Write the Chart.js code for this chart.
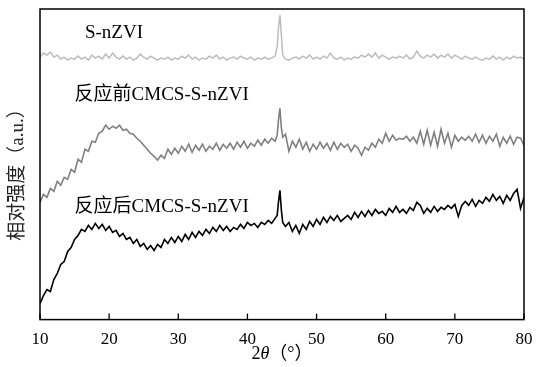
<!DOCTYPE html>
<html>
<head>
<meta charset="utf-8">
<script src="https://cdn.jsdelivr.net/npm/chart.js@4.4.1/dist/chart.umd.min.js"></script>
<style>
  html, body { margin: 0; padding: 0; background: #fff; }
  #wrap { width: 539px; height: 367px; }
</style>
</head>
<body>
<div id="wrap"><canvas id="xrd"></canvas></div>
<script>
// 2θ (°) — общая ось для трёх кривых
const twoTheta = [
  10, 10.5, 11, 11.5, 12, 12.5, 13, 13.5, 14, 14.5, 15, 15.5, 16, 16.5, 17, 17.5, 18, 18.5, 19, 19.5,
  20, 20.5, 21, 21.5, 22, 22.5, 23, 23.5, 24, 24.5, 25, 25.5, 26, 26.5, 27, 27.5, 28, 28.5, 29, 29.5,
  30, 30.5, 31, 31.5, 32, 32.5, 33, 33.5, 34, 34.5, 35, 35.5, 36, 36.5, 37, 37.5, 38, 38.5, 39, 39.5,
  40, 40.5, 41, 41.5, 42, 42.5, 43, 43.5, 44, 44.3, 44.5, 44.7, 44.9, 45.1, 45.5,
  46, 46.5, 47, 47.5, 48, 48.5, 49, 49.5, 50, 50.5, 51, 51.5, 52, 52.5, 53, 53.5, 54, 54.5, 55, 55.5,
  56, 56.5, 57, 57.5, 58, 58.5, 59, 59.5, 60, 60.5, 61, 61.5, 62, 62.5, 63, 63.5, 64, 64.5, 65, 65.5,
  66, 66.5, 67, 67.5, 68, 68.5, 69, 69.5, 70, 70.5, 71, 71.5, 72, 72.5, 73, 73.5, 74, 74.5, 75, 75.5,
  76, 76.5, 77, 77.5, 78, 78.5, 79, 79.5, 80
];

// S-nZVI
const sNZVI = [
  262, 266, 264, 267, 262, 264, 260, 262, 259, 261, 260, 263, 260, 262, 259, 264, 261, 263, 260, 265,
  261, 266, 262, 260, 263, 260, 262, 259, 261, 265, 262, 260, 263, 261, 259, 261, 260, 262, 259, 261,
  260, 263, 261, 264, 260, 262, 259, 261, 260, 263, 261, 264, 260, 262, 259, 261, 262, 260, 263, 261,
  260, 262, 259, 261, 260, 262, 260, 261, 263, 272, 292, 304, 285, 264, 260,
  259, 261, 262, 260, 263, 261, 264, 260, 262, 260, 263, 261, 266, 261, 260, 262, 259, 261, 260, 262,
  261, 264, 262, 265, 262, 266, 261, 264, 262, 260, 262, 261, 263, 261, 264, 260, 262, 268, 263, 261,
  264, 262, 265, 261, 264, 262, 265, 261, 264, 262, 260, 263, 261, 260, 262, 260, 259, 261, 260, 263,
  260, 262, 259, 262, 260, 263, 261, 262, 260
];

// 反应前 CMCS-S-nZVI
const beforeReaction = [
  117, 125, 122, 131, 128, 138, 134, 142, 140, 150, 147, 160, 157, 170, 168, 178, 177, 186, 188, 194,
  190, 193, 191, 194, 189, 190, 186, 185, 181, 178, 174, 170, 166, 163, 159, 164, 161, 170, 165, 171,
  166, 173, 168, 175, 167, 174, 169, 175, 168, 173, 170, 176, 169, 175, 171, 176, 170, 177, 172, 178,
  171, 176, 173, 179, 174, 180, 176, 181, 178, 184, 200, 211, 192, 182, 185,
  168, 178, 172, 180, 170, 177, 168, 175, 170, 177, 171, 176, 169, 177, 170, 176, 172, 175, 168, 174,
  171, 164, 172, 169, 176, 172, 180, 176, 186, 178, 184, 179, 181, 180, 183, 178, 182, 176, 188, 175,
  189, 174, 187, 173, 190, 176, 186, 172, 184, 178, 182, 179, 183, 178, 185, 177, 184, 176, 183, 178,
  185, 173, 182, 176, 183, 175, 182, 181, 174
];

// 反应后 CMCS-S-nZVI
const afterReaction = [
  16, 24, 30, 28, 40, 46, 55, 58, 68, 72, 80, 84, 90, 88, 94, 90, 96, 91, 95, 89,
  93, 87, 89, 83, 86, 80, 82, 76, 80, 73, 76, 70, 74, 69, 75, 72, 80, 76, 82, 77,
  83, 78, 85, 80, 87, 82, 88, 84, 90, 86, 92, 88, 94, 89, 93, 88, 92, 90, 95, 91,
  97, 94, 96, 92, 97, 95, 99, 96, 101, 104, 118, 129, 110, 97, 93,
  97, 88, 94, 86, 95, 90, 98, 93, 100, 95, 102, 97, 103, 99, 104, 98, 101, 104, 100, 107,
  102, 108, 103, 109, 104, 110, 106, 108, 104, 111, 107, 113, 107, 110, 106, 112, 109, 117, 114, 106,
  111, 107, 113, 108, 112, 110, 114, 111, 115, 103, 114, 118, 114, 120, 113, 119, 116, 122, 118, 125,
  119, 123, 116, 124, 119, 126, 130, 111, 122
];

const xTicks = [10, 20, 30, 40, 50, 60, 70, 80];

const serif = '"Liberation Serif", "Times New Roman", "Noto Sans CJK SC", serif';

function toPoints(values) {
  return values.map((v, i) => ({ x: twoTheta[i], y: v }));
}

// Рамка, внутренние засечки, подписи кривых и осей
const decorPlugin = {
  id: 'decor',
  afterDraw(chart) {
    const ctx = chart.ctx;
    const area = chart.chartArea;
    const xs = chart.scales.x;
    const ys = chart.scales.y;
    ctx.save();

    ctx.strokeStyle = '#000';
    ctx.lineWidth = 1.5;
    ctx.strokeRect(area.left, area.top, area.right - area.left, area.bottom - area.top);

    ctx.lineWidth = 1.3;
    xTicks.forEach(t => {
      const px = xs.getPixelForValue(t);
      ctx.beginPath();
      ctx.moveTo(px, area.bottom);
      ctx.lineTo(px, area.bottom - 6);
      ctx.stroke();
    });

    ctx.fillStyle = '#000';
    ctx.font = '19px ' + serif;
    ctx.textBaseline = 'middle';
    ctx.textAlign = 'left';
    ctx.fillText('S-nZVI', xs.getPixelForValue(16.5), ys.getPixelForValue(286));
    ctx.fillText('反应前CMCS-S-nZVI', xs.getPixelForValue(15), ys.getPixelForValue(224));
    ctx.fillText('反应后CMCS-S-nZVI', xs.getPixelForValue(15), ys.getPixelForValue(112));

    // подпись оси X: 2θ（°）
    ctx.textBaseline = 'alphabetic';
    const baseY = 359;
    ctx.font = '18px ' + serif;
    const w2 = ctx.measureText('2').width;
    ctx.font = 'italic 18px ' + serif;
    const wTh = ctx.measureText('θ').width;
    ctx.font = '18px ' + serif;
    const wDeg = ctx.measureText('（°）').width;
    let x0 = (area.left + area.right) / 2 - (w2 + wTh + wDeg) / 2;
    ctx.fillText('2', x0, baseY);
    ctx.font = 'italic 18px ' + serif;
    ctx.fillText('θ', x0 + w2, baseY);
    ctx.font = '18px ' + serif;
    ctx.fillText('（°）', x0 + w2 + wTh, baseY);

    // подпись оси Y
    ctx.save();
    ctx.translate(18, 170);
    ctx.rotate(-Math.PI / 2);
    ctx.textAlign = 'center';
    ctx.textBaseline = 'middle';
    ctx.fillStyle = '#222';
    ctx.font = '19px ' + serif;
    ctx.fillText('相对强度（a.u.）', 0, 0);
    ctx.restore();

    ctx.restore();
  }
};

new Chart(document.getElementById('xrd'), {
  type: 'line',
  data: {
    datasets: [
      { label: 'S-nZVI', data: toPoints(sNZVI), borderColor: '#bcbcbc', borderWidth: 1.5 },
      { label: '反应前CMCS-S-nZVI', data: toPoints(beforeReaction), borderColor: '#808080', borderWidth: 1.6 },
      { label: '反应后CMCS-S-nZVI', data: toPoints(afterReaction), borderColor: '#000000', borderWidth: 1.6 }
    ]
  },
  options: {
    responsive: true,
    maintainAspectRatio: false,
    animation: false,
    layout: { padding: { left: 40, right: 15, top: 9, bottom: 15 } },
    elements: { point: { radius: 0 }, line: { tension: 0 } },
    plugins: { legend: { display: false }, tooltip: { enabled: false } },
    scales: {
      x: {
        type: 'linear',
        min: 10,
        max: 80,
        afterBuildTicks: scale => { scale.ticks = xTicks.map(v => ({ value: v })); },
        grid: { display: false },
        border: { display: false },
        ticks: { color: '#000', padding: 2, maxRotation: 0, font: { family: serif, size: 17 } }
      },
      y: {
        display: false,
        min: 0,
        max: 310
      }
    }
  },
  plugins: [decorPlugin]
});
</script>
</body>
</html>
